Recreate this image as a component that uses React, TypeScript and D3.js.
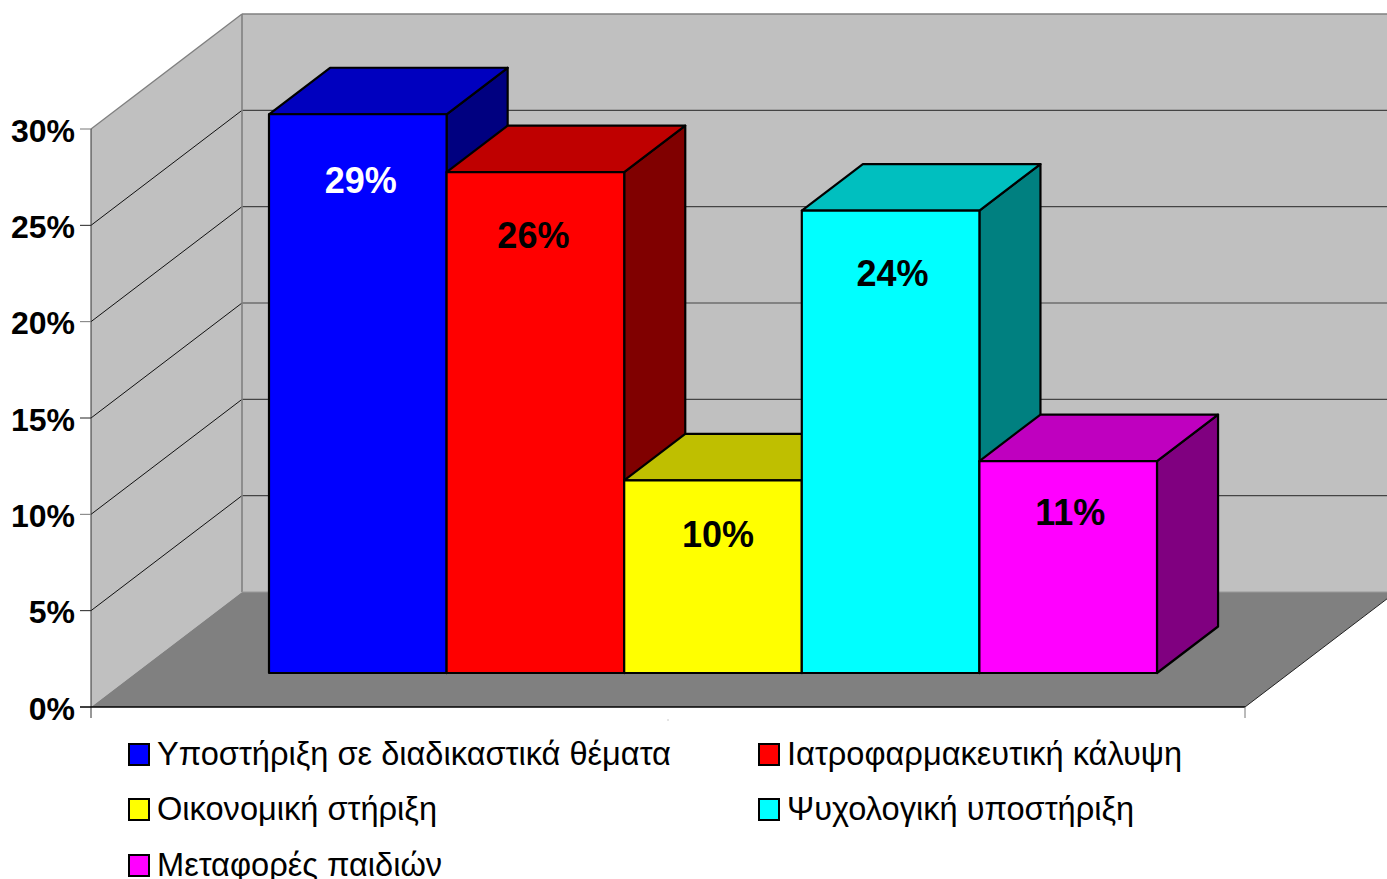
import React from "react";
import * as d3 from "d3";

const seriesNames = [
  "Υποστήριξη σε διαδικαστικά θέματα",
  "Ιατροφαρμακευτική κάλυψη",
  "Οικονομική στήριξη",
  "Ψυχολογική υποστήριξη",
  "Μεταφορές παιδιών",
];
const seriesValues = [29, 26, 10, 24, 11];
const valueLabels = ["29%", "26%", "10%", "24%", "11%"];
const frontColors = ["#0000ff", "#ff0000", "#ffff00", "#00ffff", "#ff00ff"];
const topColors = ["#0000bf", "#bf0000", "#bfbf00", "#00bfbf", "#bf00bf"];
const sideColors = ["#000080", "#800000", "#808000", "#008080", "#800080"];
const labelColors = ["#ffffff", "#000000", "#000000", "#000000", "#000000"];
const tickValues = [0, 5, 10, 15, 20, 25, 30];
const labelDx = [3, -2, 5, 2, 2];
const labelBaseline = [193, 248, 547, 286, 525];

const W = 1387, H = 879;
const FONT = "'Liberation Sans', Arial, sans-serif";
const y = d3.scaleLinear().domain([0, 30]).range([707, 129]);
const plotX = { l: 91, r: 1245 };
const depthX = d3.scaleLinear().domain([0, 1]).range([0, 151]);
const depthY = d3.scaleLinear().domain([0, 1]).range([0, -115]);
const band = d3.scaleBand<number>().domain(d3.range(seriesNames.length)).range([269, 1157]).padding(0);
const zFront = 34 / 115, zBack = 80.5 / 115;
const barBaseY = y(0) + depthY(zFront);
const barH = (v: number) => y(0) - y(v);
const sx = depthX(zBack) - depthX(zFront);
const sy = depthY(zBack) - depthY(zFront);
const bx = depthX(1), by = depthY(1);

const poly = (pts: [number, number][]) => {
  const p = d3.path();
  pts.forEach(([a, b], i) => (i ? p.lineTo(a, b) : p.moveTo(a, b)));
  p.closePath();
  return p.toString();
};

const legendCols = [129, 759];
const legendRows = [744, 799, 855];

export default function App() {
  const yTop = y(30), y0 = y(0);
  return (
    <svg width={W} height={H} viewBox={`0 0 ${W} ${H}`} style={{ position: "absolute", left: 0, top: 0, background: "#fff" }}>
      {/* walls */}
      <path d={poly([[plotX.l + bx, yTop + by], [plotX.r + bx, yTop + by], [plotX.r + bx, y0 + by], [plotX.l + bx, y0 + by]])} fill="#c0c0c0" stroke="none" />
      <path d={poly([[plotX.l, yTop], [plotX.l + bx, yTop + by], [plotX.l + bx, y0 + by], [plotX.l, y0]])} fill="#c0c0c0" stroke="none" />
      <path d={poly([[plotX.l, y0], [plotX.l + bx, y0 + by], [plotX.r + bx, y0 + by], [plotX.r, y0]])} fill="#808080" stroke="none" />
      {/* gridlines */}
      {tickValues.slice(1, -1).map((t) => (
        <g key={t}>
          <line x1={plotX.l} y1={y(t)} x2={plotX.l + bx} y2={y(t) + by} stroke="#111" strokeWidth={1} />
          <line x1={plotX.l + bx} y1={y(t) + by} x2={plotX.r + bx} y2={y(t) + by} stroke="#444" strokeWidth={1.2} />
        </g>
      ))}
      {/* wall edges */}
      <line x1={plotX.l} y1={yTop} x2={plotX.l + bx} y2={yTop + by} stroke="#808080" strokeWidth={1.4} />
      <line x1={plotX.l + bx} y1={yTop + by} x2={plotX.r + bx} y2={yTop + by} stroke="#808080" strokeWidth={1.6} />
      <line x1={plotX.l + bx} y1={yTop + by} x2={plotX.l + bx} y2={y0 + by} stroke="#808080" strokeWidth={1.6} />
      <line x1={plotX.l + bx} y1={y0 + by} x2={plotX.r + bx} y2={y0 + by} stroke="#999" strokeWidth={1} />
      <line x1={plotX.r} y1={y0} x2={plotX.r + bx} y2={y0 + by} stroke="#222" strokeWidth={1} />
      {/* axes */}
      <line x1={plotX.l} y1={yTop} x2={plotX.l} y2={y0 + 11} stroke="#333" strokeWidth={1} />
      <line x1={plotX.l - 11} y1={y0} x2={plotX.r} y2={y0} stroke="#000" strokeWidth={1.4} />
      <line x1={plotX.r} y1={y0} x2={plotX.r} y2={y0 + 11} stroke="#777" strokeWidth={1} />
      <line x1={(plotX.l + plotX.r) / 2} y1={y0 + 12} x2={(plotX.l + plotX.r) / 2} y2={y0 + 14} stroke="#ccc" strokeWidth={1} />
      {tickValues.map((t) => (
        <g key={t}>
          {t > 0 && <line x1={plotX.l - 11} y1={y(t)} x2={plotX.l} y2={y(t)} stroke={t % 10 === 0 ? "#777" : "#222"} strokeWidth={1} />}
          <text x={75} y={y(t) + 12.5} textAnchor="end" fontFamily={FONT} fontWeight="bold" fontSize={32} fill="#000">{t}%</text>
        </g>
      ))}
      {/* bars */}
      {seriesValues.map((v, i) => {
        const x0 = band(i)!, w = band.bandwidth();
        const top = barBaseY - barH(v);
        return (
          <g key={i} stroke="#000" strokeWidth={2.2} strokeLinejoin="round">
            <path d={poly([[x0 + w, top], [x0 + w + sx, top + sy], [x0 + w + sx, barBaseY + sy], [x0 + w, barBaseY]])} fill={sideColors[i]} />
            <path d={poly([[x0, top], [x0 + sx, top + sy], [x0 + w + sx, top + sy], [x0 + w, top]])} fill={topColors[i]} />
            <rect x={x0} y={top} width={w} height={barH(v)} fill={frontColors[i]} />
          </g>
        );
      })}
      {seriesValues.map((_, i) => (
        <text key={i} x={band(i)! + band.bandwidth() / 2 + labelDx[i]} y={labelBaseline[i]} textAnchor="middle" fontFamily={FONT} fontWeight="bold" fontSize={36} fill={labelColors[i]}>
          {valueLabels[i]}
        </text>
      ))}
      {/* legend */}
      {seriesNames.map((n, i) => {
        const lx = legendCols[i % 2], ly = legendRows[Math.floor(i / 2)];
        return (
          <g key={n}>
            <rect x={lx} y={ly} width={20} height={21} fill={frontColors[i]} stroke="#000" strokeWidth={2} />
            <text x={lx + 28} y={ly + 21} fontFamily={FONT} fontSize={32.6} fill="#000">{n}</text>
          </g>
        );
      })}
    </svg>
  );
}
